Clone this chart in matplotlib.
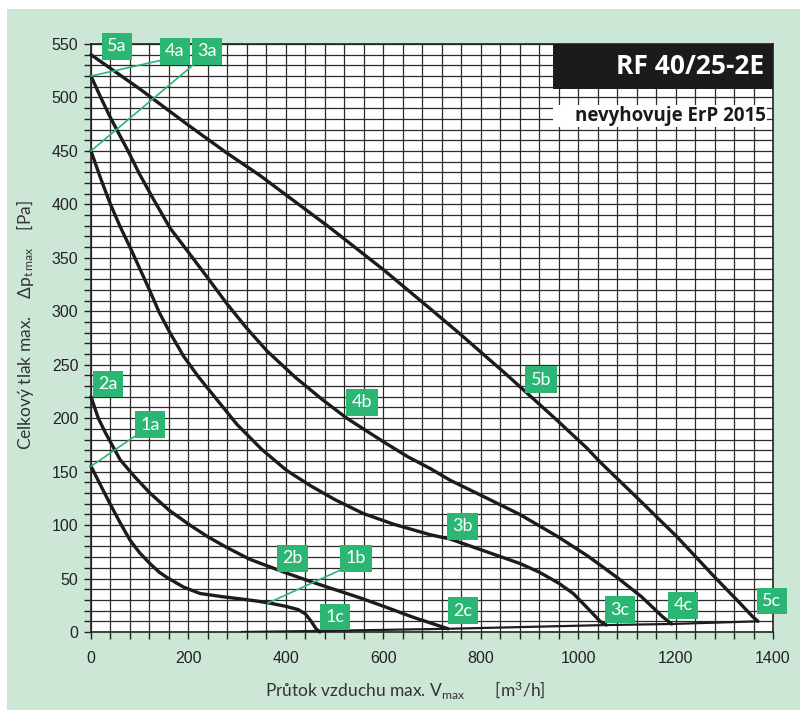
import matplotlib.pyplot as plt
import numpy as np

# fan curves, flow [m3/h] vs total pressure [Pa]
flow_1 = [0, 20, 39, 60, 80, 100, 121, 140, 156, 190, 224, 270, 306, 340, 367,
          400, 425, 440, 452, 462, 470]
press_1 = [155, 137, 120, 102, 86, 74, 64, 56, 51, 42, 36, 33, 31, 29, 27,
           24, 21, 17, 10, 3, 0]

flow_2 = [0, 15, 30, 60, 90, 121, 160, 203, 240, 279, 326, 402, 465, 552, 601, 660, 733]
press_2 = [220, 200, 186, 161, 145, 130, 114, 100, 89, 79, 68, 55, 45, 32, 24, 14, 3]

flow_3 = [0, 20, 40, 60, 80, 100, 120, 140, 162, 190, 220, 259, 300, 350, 402, 450,
          500, 558, 620, 696, 737, 800, 881, 920, 959, 990, 1020, 1045, 1058]
press_3 = [450, 424, 400, 379, 360, 340, 320, 299, 280, 258, 239, 217, 194, 171, 151, 137,
           124, 111, 101, 91, 87, 77, 64, 56, 46, 36, 22, 10, 6.5]

flow_4 = [0, 20, 40, 76, 100, 128, 162, 197, 240, 279, 320, 361, 420, 476, 525, 600,
          650, 696, 737, 800, 880, 959, 1020, 1080, 1130, 1174, 1192]
press_4 = [520, 500, 481, 450, 428, 405, 378, 357, 331, 307, 284, 263, 238, 217, 200, 178,
           164, 153, 142, 128, 110, 89, 71, 51, 33, 14, 7.5]

flow_5 = [0, 100, 200, 279, 347, 388, 491, 600, 700, 757, 850, 952, 1018, 1045, 1120,
          1203, 1281, 1330, 1359, 1369]
press_5 = [540, 508, 474, 448, 427, 413, 378, 339, 301, 279, 242, 200, 172, 159, 126,
           89, 51, 28, 14, 10]

# end points line (c)
flow_c = [310, 470, 733, 1058, 1192, 1369]
press_c = [0, 1, 3, 6.5, 7.5, 10]

curves = [(flow_1, press_1), (flow_2, press_2), (flow_3, press_3),
          (flow_4, press_4), (flow_5, press_5)]

# point labels and where they sit
labels = ['5a', '4a', '3a', '2a', '1a', '4b', '5b', '3b', '2b', '1b',
          '1c', '2c', '3c', '4c', '5c']
label_x = [53, 172, 238, 35, 121, 556, 924, 762, 413, 544, 501, 764, 1086, 1215, 1398]
label_y = [548, 543, 543, 232, 194, 215, 236, 99, 69, 69, 14, 20, 21, 25, 29]

# leader lines (from, to)
leaders = [((0, 520), (146, 535)), ((0, 450), (214, 532)),
           ((0, 155), (96, 185)), ((363, 27), (517, 59))]

green = '#2bb673'
bg = '#cde7d6'

fig = plt.figure(figsize=(8, 7.1), dpi=100)
fig.patch.set_facecolor('white')
fig.add_artist(plt.Rectangle((7 / 800, 0), 1, 1 - 9 / 710, transform=fig.transFigure,
                             facecolor=bg, edgecolor='none', zorder=-10))

ax = fig.add_axes([91 / 800, 1 - 632 / 710, 682 / 800, 588 / 710])
ax.set_facecolor('white')
ax.set_xlim(0, 1400)
ax.set_ylim(0, 550)

ax.set_xticks(np.arange(0, 1401, 200))
ax.set_xticks(np.arange(0, 1401, 40), minor=True)
ax.set_yticks(np.arange(0, 551, 50))
ax.set_yticks(np.arange(0, 551, 10), minor=True)
ax.grid(True, which='both', color='#2a2a2a', linewidth=0.9)
ax.set_axisbelow(True)
ax.tick_params(which='both', direction='out', length=5, width=1, color='#222222')
ax.tick_params(which='major', labelsize=11.5, pad=4, labelcolor='#222222')
for lab in ax.get_xticklabels() + ax.get_yticklabels():
    lab.set_fontfamily('Liberation Sans')
ax.tick_params(axis='x', pad=9)
for s in ax.spines.values():
    s.set_color('#222222')
    s.set_linewidth(1.2)

for fx, py in curves:
    ax.plot(fx, py, color='#1c1c1c', lw=2.4, solid_capstyle='round',
            solid_joinstyle='round', zorder=3, clip_on=False)
ax.plot(flow_c, press_c, color='#1c1c1c', lw=1.6, zorder=3)

for (x0, y0), (x1, y1) in leaders:
    ax.plot([x0, x1], [y0, y1], color=green, lw=1.2, zorder=4, clip_on=False)

for t, x, y in zip(labels, label_x, label_y):
    ax.text(x, y, t, color='white', fontsize=13, family='Lato', ha='center', va='center',
            zorder=6, clip_on=False,
            bbox=dict(boxstyle='square,pad=0.3', fc=green, ec='none'))

# title box
ax.add_patch(plt.Rectangle((948, 508), 452, 42, facecolor='#1c1a1a', edgecolor='none',
                           zorder=5, clip_on=False))
ax.text(1382, 529, 'RF 40/25-2E', color='white', fontsize=19, fontweight='bold',
        family='Open Sans', ha='right', va='center', zorder=6)
ax.add_patch(plt.Rectangle((948, 472), 440, 21, facecolor='white', edgecolor='none', zorder=5))
ax.text(1386, 482.5, 'nevyhovuje ErP 2015', color='#1c1a1a', fontsize=13.5, fontweight='bold',
        family='Open Sans', ha='right', va='center', zorder=6)

plt.rcParams['mathtext.fontset'] = 'custom'
plt.rcParams['mathtext.rm'] = 'Lato'
plt.rcParams['mathtext.it'] = 'Lato'

fig.text(25 / 800, 1 - 325 / 710,
         'Celkový tlak max.    $\\Delta\\mathregular{p_{t\\,max}}$    [Pa]',
         rotation=90, ha='center', va='center', fontsize=12.5, family='Lato', color='#333333')
fig.text(405 / 800, 1 - 690 / 710,
         'Průtok vzduchu max. $\\mathregular{V_{max}}$       [m$\\mathregular{^3}$/h]',
         ha='center', va='center', fontsize=12.5, family='Lato', color='#333333')

fig.savefig('out.png', dpi=100)
